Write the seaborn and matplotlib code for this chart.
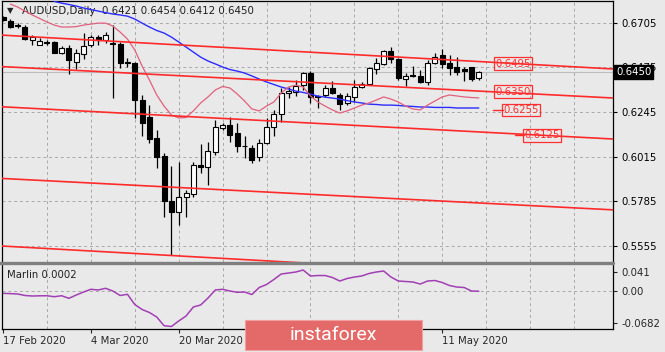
import numpy as np
import pandas as pd
import matplotlib
matplotlib.use('Agg')
import matplotlib.pyplot as plt
import matplotlib.transforms as mtransforms
from matplotlib.patches import Rectangle
from matplotlib.lines import Line2D
import seaborn as sns

# daily AUDUSD bars, 17 Feb .. 18 May 2020
dates = pd.bdate_range('2020-02-17', '2020-05-18')

opens = [0.6733, 0.6715, 0.6692, 0.6681, 0.6616, 0.6592, 0.6605, 0.6607, 0.6547, 0.6573,
         0.6501, 0.6544, 0.6590, 0.6630, 0.6616, 0.6602, 0.6594, 0.6501, 0.6496, 0.6307,
         0.6218, 0.6110, 0.6019, 0.5789, 0.5732, 0.5806, 0.5821, 0.5971, 0.5960, 0.6041,
         0.6161, 0.6178, 0.6135, 0.6072, 0.6062, 0.6015, 0.6088, 0.6170, 0.6235, 0.6341,
         0.6350, 0.6384, 0.6448, 0.6329, 0.6333, 0.6370, 0.6333, 0.6293, 0.6324, 0.6376,
         0.6390, 0.6467, 0.6491, 0.6561, 0.6516, 0.6415, 0.6436, 0.6431, 0.6402, 0.6499,
         0.6539, 0.6499, 0.6475, 0.6465, 0.6475, 0.6421]
highs = [0.6739, 0.6722, 0.6702, 0.6693, 0.6642, 0.6624, 0.6616, 0.6613, 0.6585, 0.6590,
         0.6568, 0.6650, 0.6642, 0.6642, 0.6659, 0.6693, 0.6607, 0.6522, 0.6504, 0.6333,
         0.6281, 0.6153, 0.6036, 0.5967, 0.5990, 0.5844, 0.5990, 0.6079, 0.6093, 0.6204,
         0.6190, 0.6218, 0.6190, 0.6122, 0.6076, 0.6105, 0.6213, 0.6256, 0.6367, 0.6372,
         0.6410, 0.6453, 0.6457, 0.6333, 0.6384, 0.6405, 0.6345, 0.6341, 0.6410, 0.6402,
         0.6479, 0.6522, 0.6564, 0.6578, 0.6522, 0.6444, 0.6482, 0.6462, 0.6513, 0.6551,
         0.6568, 0.6539, 0.6530, 0.6475, 0.6479, 0.6454]
lows = [0.6714, 0.6676, 0.6676, 0.6616, 0.6590, 0.6590, 0.6590, 0.6547, 0.6545, 0.6441,
        0.6465, 0.6516, 0.6582, 0.6590, 0.6599, 0.6316, 0.6470, 0.6479, 0.6213, 0.6122,
        0.6084, 0.5955, 0.5703, 0.5509, 0.5664, 0.5703, 0.5809, 0.5930, 0.5870, 0.6024,
        0.6153, 0.6093, 0.6041, 0.6007, 0.5984, 0.5995, 0.6081, 0.6122, 0.6196, 0.6316,
        0.6328, 0.6358, 0.6290, 0.6264, 0.6321, 0.6336, 0.6256, 0.6281, 0.6299, 0.6367,
        0.6384, 0.6439, 0.6487, 0.6496, 0.6410, 0.6379, 0.6424, 0.6396, 0.6384, 0.6492,
        0.6470, 0.6436, 0.6436, 0.6407, 0.6407, 0.6412]
closes = [0.6719, 0.6685, 0.6688, 0.6619, 0.6630, 0.6613, 0.6603, 0.6547, 0.6573, 0.6513,
          0.6547, 0.6585, 0.6633, 0.6616, 0.6642, 0.6594, 0.6496, 0.6496, 0.6307, 0.6187,
          0.6105, 0.6015, 0.5787, 0.5732, 0.5806, 0.5827, 0.5972, 0.5960, 0.6046, 0.6170,
          0.6178, 0.6127, 0.6070, 0.6068, 0.5998, 0.6088, 0.6170, 0.6235, 0.6341, 0.6353,
          0.6379, 0.6448, 0.6324, 0.6321, 0.6367, 0.6341, 0.6285, 0.6328, 0.6376, 0.6390,
          0.6470, 0.6496, 0.6559, 0.6516, 0.6419, 0.6431, 0.6429, 0.6402, 0.6496, 0.6530,
          0.6491, 0.6474, 0.6453, 0.6458, 0.6414, 0.6450]

nan = np.nan
# blue moving average
ma_blue = [nan, nan, nan, nan, nan, nan, nan, 0.6815, 0.6806, 0.6799,
           0.6791, 0.6781, 0.6773, 0.6765, 0.6757, 0.6750, 0.6745, 0.6739, 0.6724, 0.6703,
           0.6683, 0.6665, 0.6652, 0.6631, 0.6606, 0.6580, 0.6554, 0.6528, 0.6508, 0.6493,
           0.6477, 0.6464, 0.6456, 0.6446, 0.6431, 0.6415, 0.6400, 0.6387, 0.6374, 0.6364,
           0.6353, 0.6346, 0.6338, 0.6327, 0.6322, 0.6317, 0.6312, 0.6304, 0.6297, 0.6292,
           0.6286, 0.6284, 0.6281, 0.6281, 0.6279, 0.6276, 0.6274, 0.6271, 0.6271, 0.6269,
           0.6269, 0.6269, 0.6266, 0.6266, 0.6266, 0.6266]
# pink smoothed line
ma_pink = [nan, 0.6801, 0.6786, 0.6765, 0.6745, 0.6727, 0.6709, 0.6693, 0.6683, 0.6683,
           0.6685, 0.6693, 0.6698, 0.6703, 0.6703, 0.6688, 0.6657, 0.6621, 0.6565, 0.6482,
           0.6410, 0.6333, 0.6276, 0.6230, 0.6215, 0.6217, 0.6251, 0.6292, 0.6323, 0.6359,
           0.6377, 0.6369, 0.6338, 0.6302, 0.6261, 0.6251, 0.6276, 0.6297, 0.6343, 0.6374,
           0.6384, 0.6374, 0.6328, 0.6297, 0.6276, 0.6256, 0.6240, 0.6251, 0.6266, 0.6281,
           0.6292, 0.6307, 0.6323, 0.6312, 0.6297, 0.6276, 0.6261, 0.6256, 0.6281, 0.6302,
           0.6323, 0.6333, 0.6328, 0.6323, 0.6320, 0.6318]
# Marlin oscillator
marlin = [-0.0043, -0.0049, -0.0057, -0.0089, -0.0100, -0.0096, -0.0094, -0.0115, -0.0094, -0.0149,
          -0.0079, -0.0015, 0.0043, 0.0028, 0.0064, 0.0006, -0.0089, -0.0064, -0.0281, -0.0387,
          -0.0451, -0.0547, -0.0732, -0.0749, -0.0632, -0.0526, -0.0334, -0.0291, -0.0143, 0.0028,
          0.0043, 0.0006, -0.0021, -0.0015, -0.0068, 0.0081, 0.0145, 0.0251, 0.0368, 0.0389,
          0.0411, 0.0453, 0.0326, 0.0336, 0.0336, 0.0294, 0.0219, 0.0272, 0.0304, 0.0326,
          0.0379, 0.0411, 0.0432, 0.0304, 0.0219, 0.0209, 0.0198, 0.0155, 0.0219, 0.0230,
          0.0187, 0.0123, 0.0091, 0.0081, 0.0006, 0.0002]

# channel lines: price at bar 0 and at bar 80
channel_start = [0.6641, 0.6479, 0.6272, 0.5903, 0.5555]
channel_end = [0.6474, 0.6324, 0.6113, 0.5748, 0.5386]

level_labels = ['0.6495', '0.6350', '0.6255', '0.6125']
level_values = [0.6495, 0.6350, 0.6255, 0.6125]

price_ticks = [0.5555, 0.5785, 0.6015, 0.6245, 0.6475, 0.6705]
marlin_ticks = [-0.0682, 0.0, 0.041]
marlin_tick_labels = ['-0.0682', '0.00', '0.041']

sns.set_style('white')
plt.rcParams['font.family'] = ['DejaVu Sans']

bg = '#e9e9e9'
red = '#ff2a2a'
W, H = 665, 352
fig = plt.figure(figsize=(W / 100, H / 100), dpi=100)
fig.patch.set_facecolor(bg)

ax = fig.add_axes([2 / W, 1 - 262 / H, 611 / W, 261 / H])
ax2 = fig.add_axes([2 / W, 1 - 329 / H, 611 / W, 64 / H])
for a in (ax, ax2):
    a.set_facecolor(bg)
    a.set_xlim(-0.14, 83.33)

x = np.arange(len(dates))
df = pd.DataFrame({'bar': x, 'open': opens, 'high': highs, 'low': lows, 'close': closes,
                   'blue': ma_blue, 'pink': ma_pink, 'marlin': marlin})

# grid
ax.set_xticks(np.arange(6, 84, 6), minor=True)
ax.set_xticks([])
ax.grid(True, which='minor', axis='x', color='#a8a8a8', ls=(0, (3, 3)), lw=0.7)
ax.set_yticks(price_ticks)
ax.set_yticklabels([f'{v:.4f}' for v in price_ticks])
ax.grid(True, which='major', axis='y', color='#a8a8a8', ls=(0, (3, 3)), lw=0.7)
ax.set_ylim(0.5473, 0.6817)
ax.yaxis.tick_right()
ax.tick_params(axis='y', which='major', direction='out', length=3, width=0.8,
               labelsize=7.3, pad=3, colors='black', right=True, left=False)
ax.tick_params(axis='x', which='both', length=0, labelbottom=False)

# current price line
ax.axhline(closes[-1], color='#bdbdbd', lw=0.8, zorder=1)

# candles
up = df['close'] >= df['open']
ax.vlines(df['bar'], df['low'], df['high'], color='black', lw=0.9, zorder=2)
body_bottom = df[['open', 'close']].min(axis=1)
body_height = np.maximum((df['close'] - df['open']).abs(), 0.00006)
ax.bar(df['bar'], body_height, bottom=body_bottom, width=0.68,
       color=np.where(up, 'white', 'black'), edgecolor='black', linewidth=0.8, zorder=3)

# indicator lines
sns.lineplot(data=df, x='bar', y='blue', ax=ax, color='#2b2bff', linewidth=1.0,
             estimator=None, zorder=4)
sns.lineplot(data=df, x='bar', y='pink', ax=ax, color='#e2607c', linewidth=0.9,
             estimator=None, zorder=4)

# channel lines
xl = np.array(ax.get_xlim())
for p0, p1 in zip(channel_start, channel_end):
    slope = (p1 - p0) / 80.0
    ax.plot(xl, p0 + slope * xl, color=red, lw=1.2, zorder=5)

# level labels
label_x = [67.2, 67.2, 68.3, 71.2]
for lx, lv, lt in zip(label_x, level_labels, level_values):
    ax.text(lx, lt, lv, color='#ff3030', fontsize=7.3, ha='left', va='center', zorder=6,
            bbox=dict(boxstyle='square,pad=0.12', fc='none', ec='#ff3030', lw=0.9))
ax.plot([66.9, 68.3], [0.6255, 0.6255], color=red, lw=1.0, zorder=5)
ax.plot([70.0, 71.2], [0.6125, 0.6125], color=red, lw=1.0, zorder=5)

ax.set_xlabel('')
ax.set_ylabel('')
for s in ('left', 'right', 'top'):
    ax.spines[s].set_color('black')
    ax.spines[s].set_linewidth(0.9)
ax.spines['bottom'].set_visible(False)

# current price box (covers most of the 0.6475 tick label, as in MT4)
tr = mtransforms.blended_transform_factory(ax.transAxes, ax.transData)
ax.text(1.0 + 3 / 611, closes[-1], '0.6450', transform=tr, color='white', fontsize=7.3,
        ha='left', va='center', zorder=10, clip_on=False,
        bbox=dict(boxstyle='square,pad=0.2', fc='black', ec='black'))

# title
ax.text(5 / 611, 0.962, '\u25bc', transform=ax.transAxes, fontsize=6, ha='left', va='center')
ax.text(20 / 611, 0.962, 'AUDUSD,Daily  0.6421 0.6454 0.6412 0.6450', transform=ax.transAxes,
        fontsize=7.4, ha='left', va='center', color='#202020')

# Marlin panel
sns.lineplot(data=df, x='bar', y='marlin', ax=ax2, color='#a23fb5', linewidth=1.1,
             estimator=None)
ax2.set_ylim(-0.0802, 0.056)
ax2.axhline(0, color='#a8a8a8', ls=(0, (3, 3)), lw=0.7, zorder=0)
ax2.set_yticks(marlin_ticks)
ax2.set_yticklabels(marlin_tick_labels)
ax2.yaxis.tick_right()
ax2.tick_params(axis='y', direction='out', length=3, width=0.8, labelsize=7.3, pad=3,
                right=True, left=False)
date_pos = list(range(0, len(dates), 12))
# labels under the watermark are hidden in the reference
hidden = {36, 48}
ax2.set_xticks(date_pos)
ax2.set_xticklabels(['' if i in hidden else f'{dates[i].day} {dates[i].strftime("%b %Y")}'
                     for i in date_pos], ha='left')
ax2.set_xticks(np.arange(6, 84, 6), minor=True)
ax2.grid(True, which='minor', axis='x', color='#a8a8a8', ls=(0, (3, 3)), lw=0.7)
ax2.tick_params(axis='x', which='major', direction='out', length=3, width=0.8,
                labelsize=7.3, pad=2, bottom=True)
ax2.tick_params(axis='x', which='minor', length=0)
ax2.set_xlabel('')
ax2.set_ylabel('')
for s in ('left', 'right', 'bottom'):
    ax2.spines[s].set_color('black')
    ax2.spines[s].set_linewidth(0.9)
ax2.spines['top'].set_visible(False)
ax2.text(5 / 611, 0.84, 'Marlin 0.0002', transform=ax2.transAxes, fontsize=7.3,
         ha='left', va='center', color='#202020')

# separator between panels
fig.add_artist(Line2D([0, 613 / W], [1 - 263.4 / H] * 2, color='#7f7f7f', lw=2.4))

# watermark
fig.add_artist(Rectangle((245 / W, 2 / H), 177 / W, 30 / H, transform=fig.transFigure,
                         facecolor='#e46a6a', edgecolor='#f0a0a0', lw=0.8, zorder=20))
fig.text(290 / W, 17 / H, 'instaforex', color='white', fontsize=14, family='Roboto',
         ha='left', va='center', zorder=21)

fig.savefig('out.png', dpi=100, facecolor=bg)
